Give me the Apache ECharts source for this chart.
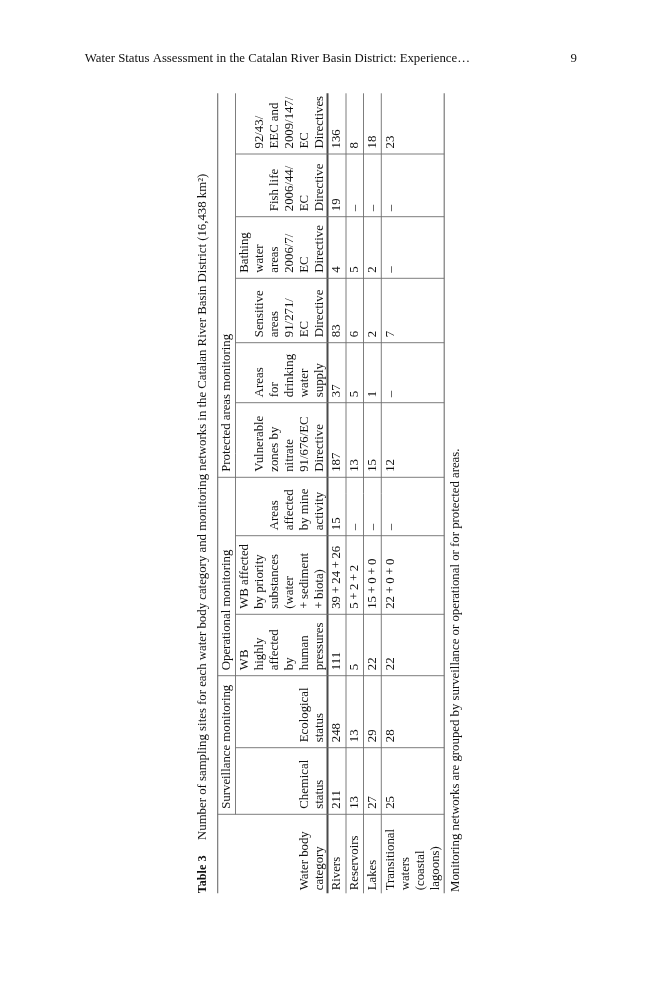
<!DOCTYPE html>
<html><head><meta charset="utf-8">
<script src="https://cdn.jsdelivr.net/npm/echarts@6/dist/echarts.min.js"></script>
<style>html,body{margin:0;padding:0;background:#fff}#c{width:659px;height:1000px}</style>
</head><body><div id="c"></div>
<script>
// ---- data ----
const categories = ["Rivers", "Reservoirs", "Lakes", "Transitional\nwaters\n(coastal\nlagoons)"];
const chemicalStatus = [211, 13, 27, 25];
const ecologicalStatus = [248, 13, 29, 28];
const wbHighlyAffected = [111, 5, 22, 22];
const wbPrioritySubstances = ["39\u2009+\u200924\u2009+\u200926", "5\u2009+\u20092\u2009+\u20092", "15\u2009+\u20090\u2009+\u20090", "22\u2009+\u20090\u2009+\u20090"];
const minedAreas = [15, "\u2013", "\u2013", "\u2013"];
const nitrateZones = [187, 13, 15, 12];
const drinkingWater = [37, 5, 1, "\u2013"];
const sensitiveAreas = [83, 6, 2, 7];
const bathingAreas = [4, 5, 2, "\u2013"];
const fishLife = [19, "\u2013", "\u2013", "\u2013"];
const habitatsBirds = [136, 8, 18, 23];
const columnHeaders = [
  "Water body\ncategory",
  "Chemical\nstatus",
  "Ecological\nstatus",
  "WB\nhighly\naffected\nby\nhuman\npressures",
  "WB affected\nby priority\nsubstances\n(water\n+\u2009sediment\n+\u2009biota)",
  "Areas\naffected\nby mine\nactivity",
  "Vulnerable\nzones by\nnitrate\n91/676/EC\nDirective",
  "Areas\nfor\ndrinking\nwater\nsupply",
  "Sensitive\nareas\n91/271/\nEC\nDirective",
  "Bathing\nwater\nareas\n2006/7/\nEC\nDirective",
  "Fish life\n2006/44/\nEC\nDirective",
  "92/43/\nEEC and\n2009/147/\nEC\nDirectives"
];
const groupLabels = ["Surveillance monitoring", "Operational monitoring", "Protected areas monitoring"];
const groupFirstColumn = [1, 3, 6];
const captionLabel = "Table 3";
const captionText = "Number of sampling sites for each water body category and monitoring networks in the Catalan River Basin District (16,438 km\u00B2)";
const footnoteText = "Monitoring networks are grouped by surveillance or operational or for protected areas.";
const runningHead = "Water Status Assessment in the Catalan River Basin District: Experience\u2026";
const pageNumber = "9";

const valueColumns = [chemicalStatus, ecologicalStatus, wbHighlyAffected, wbPrioritySubstances, minedAreas,
  nitrateZones, drinkingWater, sensitiveAreas, bathingAreas, fishLife, habitatsBirds];

// ---- layout (table units, 1 unit = 1 px) ----
const colWidths = [79, 66.6, 72, 61.4, 78.6, 58.4, 74.6, 60, 64.4, 61.6, 62.7, 60.7];
const tableLength = colWidths.reduce((a, b) => a + b, 0);
const colEdges = [0];
colWidths.forEach(w => colEdges.push(colEdges[colEdges.length - 1] + w));
const groupRule = 17.8, headRule = 109.8;
const rowEdges = [109.8, 128.3, 145.8, 163.6, 226.5];
const tableDepth = rowEdges[rowEdges.length - 1];

const FONT = '"Liberation Serif", "Times New Roman", serif';
const TXT = '#111';

// text cells
const cells = [];
columnHeaders.forEach((h, c) => cells.push({pos: [headRule - 0.8, colEdges[c] + (c === 0 ? 3 : 5.5)], text: h, va: 'bottom'}));
groupLabels.forEach((g, i) => cells.push({pos: [groupRule / 2, colEdges[groupFirstColumn[i]] + 5.5], text: g, va: 'middle'}));
categories.forEach((cat, r) => {
  cells.push({pos: [rowEdges[r] + 1.5, colEdges[0] + 3], text: cat, va: 'top'});
  valueColumns.forEach((arr, k) => cells.push({pos: [rowEdges[r] + 1.5, colEdges[k + 1] + 5.5], text: String(arr[r]), va: 'top'}));
});

// rules
const rules = [];
rules.push([0, 0, 0, tableLength, 1.1]);
rules.push([groupRule, colEdges[1], groupRule, tableLength, 0.9]);
rules.push([headRule, 0, headRule, tableLength, 2]);
rowEdges.slice(1, -1).forEach(x => rules.push([x, 0, x, tableLength, 0.9]));
rules.push([tableDepth, 0, tableDepth, tableLength, 1.1]);
for (let e = 1; e < colEdges.length - 1; e++) {
  const full = groupFirstColumn.indexOf(e) >= 0 || e === 1;
  rules.push([full ? 0 : groupRule, colEdges[e], tableDepth, colEdges[e], 0.9]);
}

const chart = echarts.init(document.getElementById('c'), null, {renderer: 'canvas'});
chart.setOption({
  animation: false,
  backgroundColor: '#fff',
  grid: {left: 217.7, top: 93.3, width: tableDepth, height: tableLength},
  xAxis: {type: 'value', min: 0, max: tableDepth, show: false},
  yAxis: {type: 'value', min: 0, max: tableLength, show: false},
  series: [
    {
      type: 'custom', clip: false, silent: true,
      data: rules.map(r => r.slice(0, 4)),
      renderItem: function (params, api) {
        const a = api.coord([api.value(0), api.value(1)]);
        const b = api.coord([api.value(2), api.value(3)]);
        const w = rules[params.dataIndex][4];
        return {type: 'line', shape: {x1: a[0], y1: a[1], x2: b[0], y2: b[1]},
          style: {stroke: w > 1.5 ? '#4a4a4a' : '#6e6e6e', lineWidth: w}};
      }
    },
    {
      type: 'custom', clip: false, silent: true,
      data: cells.map(c => c.pos),
      renderItem: function (params, api) {
        const cell = cells[params.dataIndex];
        const p = api.coord([api.value(0), api.value(1)]);
        return {type: 'text', x: p[0], y: p[1], rotation: Math.PI / 2,
          style: {text: cell.text, fontFamily: FONT, fontSize: 12.8, lineHeight: 15,
            align: 'left', verticalAlign: cell.va, fill: TXT}};
      }
    }
  ],
  graphic: [
    {type: 'text', x: 470, y: 59, style: {text: runningHead, fontFamily: FONT, fontSize: 12.8, fill: TXT, align: 'right', verticalAlign: 'middle'}},
    {type: 'text', x: 577, y: 59, style: {text: pageNumber, fontFamily: FONT, fontSize: 12.8, fill: TXT, align: 'right', verticalAlign: 'middle'}},
    {type: 'text', x: 203, y: 893.3, rotation: Math.PI / 2, style: {text: captionLabel, fontFamily: FONT, fontWeight: 'bold', fontSize: 12.2, fill: TXT, align: 'left', verticalAlign: 'middle'}},
    {type: 'text', x: 203, y: 840, rotation: Math.PI / 2, style: {text: captionText, fontFamily: FONT, fontSize: 12.8, fill: TXT, align: 'left', verticalAlign: 'middle'}},
    {type: 'text', x: 455.7, y: 892, rotation: Math.PI / 2, style: {text: footnoteText, fontFamily: FONT, fontSize: 12.8, fill: TXT, align: 'left', verticalAlign: 'middle'}}
  ]
});
</script></body></html>
